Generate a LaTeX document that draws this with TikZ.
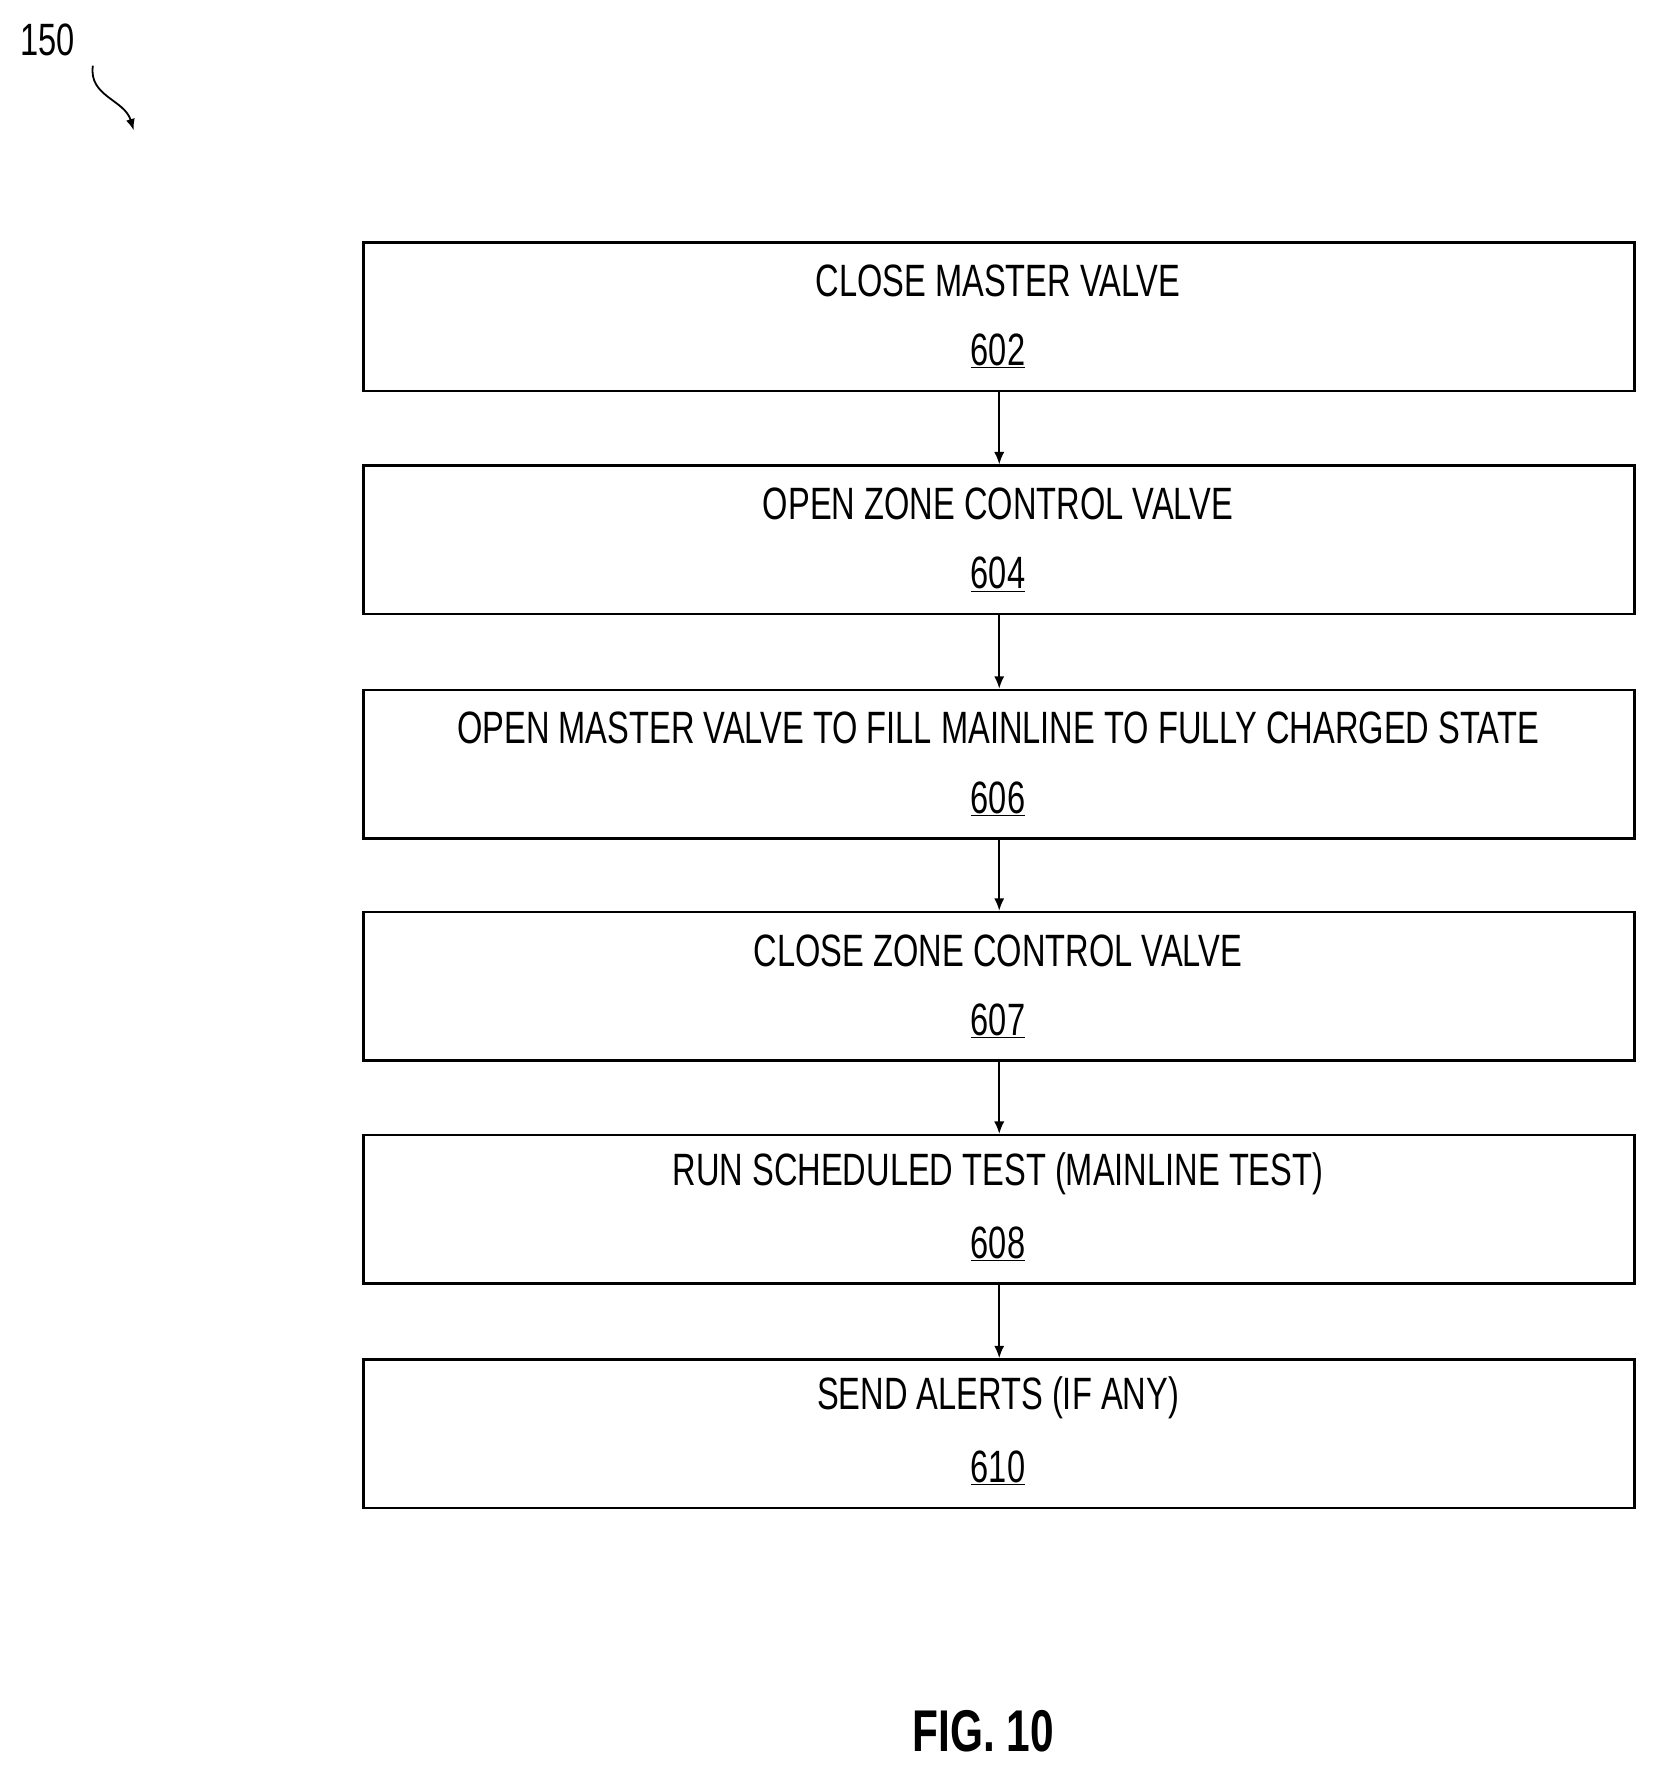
\documentclass[tikz,border=0pt]{standalone}
\usepackage{fontspec}
\setmainfont{Liberation Sans}[FakeStretch=0.72]
\begin{document}
\begin{tikzpicture}[x=1pt,y=-1pt,
  box/.style={draw,line width=2.2pt,minimum width=1122pt,minimum height=131pt,anchor=north west,inner sep=0pt},
  lbl/.style={font=\fontsize{40}{44}\selectfont},
  arr/.style={line width=1.6pt,-{Latex[length=11pt,width=9pt]}}]
\usetikzlibrary{arrows.meta}
\useasboundingbox (0,0) rectangle (1466,1574);
\foreach \n/\y/\t in {602/213/CLOSE MASTER VALVE,604/410/OPEN ZONE CONTROL VALVE,606/608/OPEN MASTER VALVE TO FILL MAINLINE TO FULLY CHARGED STATE,607/804/CLOSE ZONE CONTROL VALVE,608/1001/RUN SCHEDULED TEST (MAINLINE TEST),610/1199/SEND ALERTS (IF ANY)}{
  \node[box] (b\n) at (320,\y) {};
  \node[lbl] (t\n) at (881,\y+35) {\t};
  \node[lbl] (n\n) at (881,\y+97) {\underline{\n}};
}
\draw[arr] (b602.south) -- (b604.north);
\draw[arr] (b604.south) -- (b606.north);
\draw[arr] (b606.south) -- (b607.north);
\draw[arr] (b607.south) -- (b608.north);
\draw[arr] (b608.south) -- (b610.north);
\node[lbl] (ref) at (42,35) {150};
\coordinate (s) at (82,58);
\coordinate (e) at (118,115);
\draw[line width=1.6pt,-{Latex[length=10pt,width=8pt]}] (s) .. controls (78,85) and (110,88) .. (e);
\node (fig) at (868,1528) {\fontsize{52}{56}\selectfont\bfseries FIG. 10};
\end{tikzpicture}
\end{document}
